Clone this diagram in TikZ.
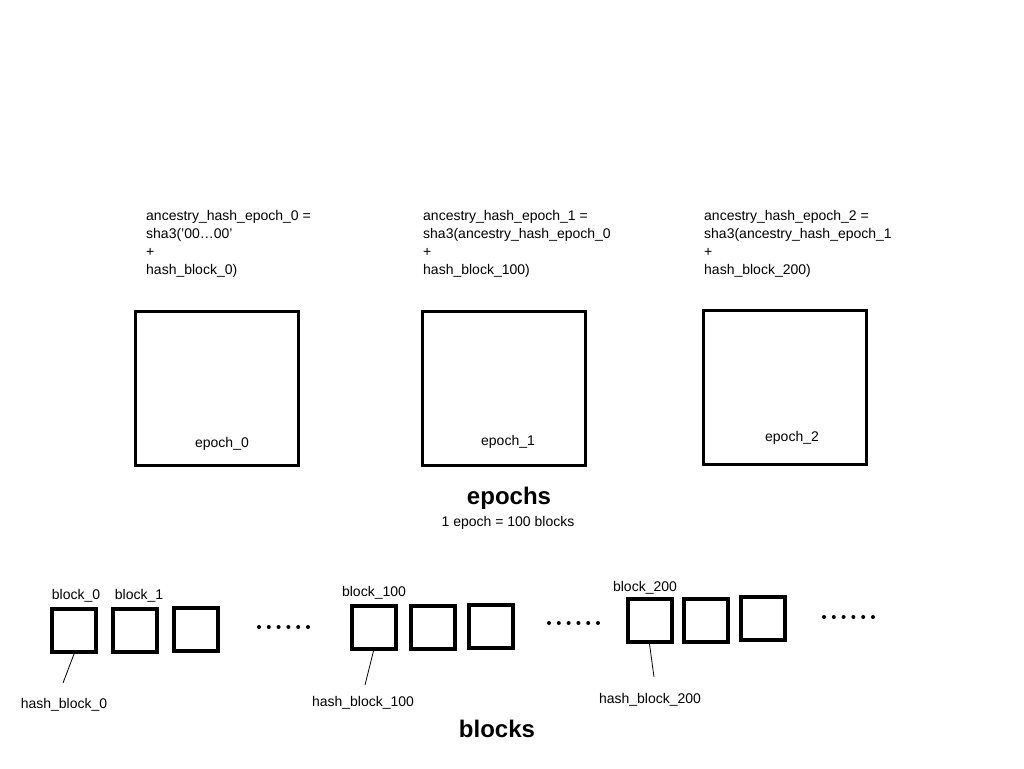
\documentclass[tikz,border=0pt]{standalone}
\usepackage{fontspec}
\setmainfont{Liberation Sans}
\usetikzlibrary{positioning}

\tikzset{
    epochbox/.style={draw, line width=3pt, minimum width=163pt, minimum height=154pt, inner sep=0pt},
    blockbox/.style={draw, line width=4pt, minimum width=44pt, minimum height=43pt, inner sep=0pt},
    smalltext/.style={font=\fontsize{14}{18}\selectfont, inner sep=0pt},
    formula/.style={smalltext, align=left, anchor=north west},
    title/.style={font=\fontsize{24}{28}\selectfont\bfseries, inner sep=0pt},
    dot/.style={circle, fill, minimum size=4pt, inner sep=0pt},
    hashline/.style={line width=0.8pt}
}

\begin{document}
\begin{tikzpicture}[x=1pt, y=-1pt]
    \useasboundingbox (0, 0) rectangle (1024, 768);

    % epochs
    \node[epochbox] (epoch0) at (217, 388.5) {};
    \node[epochbox] (epoch1) at (504, 388) {};
    \node[epochbox] (epoch2) at (785, 387) {};

    \node[smalltext] (epochname0) at (222, 444) {epoch\_0};
    \node[smalltext] (epochname1) at (508, 442) {epoch\_1};
    \node[smalltext] (epochname2) at (792, 438) {epoch\_2};

    \node[formula] (ancestry0) at (146, 210) {ancestry\_hash\_epoch\_0 =\\ sha3(’00…00’\\ +\\ hash\_block\_0)};
    \node[formula] (ancestry1) at (423, 210) {ancestry\_hash\_epoch\_1 =\\ sha3(ancestry\_hash\_epoch\_0\\ +\\ hash\_block\_100)};
    \node[formula] (ancestry2) at (704, 210) {ancestry\_hash\_epoch\_2 =\\ sha3(ancestry\_hash\_epoch\_1\\ +\\ hash\_block\_200)};

    \node[title] (epochs) at (509, 498) {epochs};
    \node[smalltext] (epochsize) at (508, 523) {1 epoch = 100 blocks};

    % blocks
    \node[blockbox] (block0) at (74, 630.5) {};
    \node[blockbox] (block1) at (135, 630.5) {};
    \node[blockbox] (block2) at (196, 629.5) {};
    \node[blockbox] (block100) at (373.5, 627.5) {};
    \node[blockbox] (block101) at (432.5, 627) {};
    \node[blockbox] (block102) at (491, 626) {};
    \node[blockbox] (block200) at (649.5, 620.5) {};
    \node[blockbox] (block201) at (705.5, 620) {};
    \node[blockbox] (block202) at (763, 618) {};

    \node[smalltext] (blockname0) at (76, 596) {block\_0};
    \node[smalltext] (blockname1) at (139, 596) {block\_1};
    \node[smalltext] (blockname100) at (374, 593) {block\_100};
    \node[smalltext] (blockname200) at (645, 588) {block\_200};

    \foreach \i in {0,...,5} {
        \node[dot] at (259 + 9.8*\i, 627) {};
        \node[dot] at (549 + 9.8*\i, 623) {};
        \node[dot] at (824 + 9.8*\i, 617) {};
    }

    \node[smalltext] (hash0) at (64, 705) {hash\_block\_0};
    \node[smalltext] (hash100) at (363, 703) {hash\_block\_100};
    \node[smalltext] (hash200) at (650, 700) {hash\_block\_200};

    \coordinate (tail0) at (63, 683);
    \coordinate (tail100) at (365, 685);
    \coordinate (tail200) at (654, 677);

    \draw[hashline] (block0.south) -- (tail0);
    \draw[hashline] (block100.south) -- (tail100);
    \draw[hashline] (block200.south) -- (tail200);

    \node[title] (blocks) at (497, 729) {blocks};
\end{tikzpicture}
\end{document}
